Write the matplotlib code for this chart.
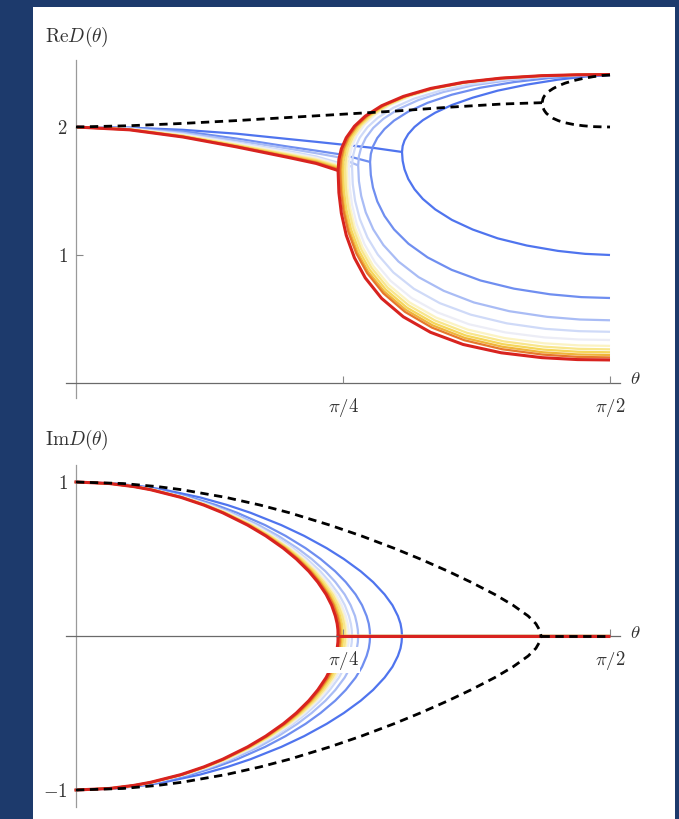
import matplotlib
matplotlib.use("Agg")
import matplotlib.pyplot as plt
from matplotlib.patches import Rectangle

plt.rcParams['mathtext.fontset'] = 'cm'
plt.rcParams['font.family'] = ['DejaVu Serif']

# theta is given in units of pi/2 (0 .. 1); curves ordered blue -> red
curve_colors = ['#4f74ee', '#6f8ef0', '#a9bcf5', '#cfdaf8', '#ecedf6', '#fbf3c3',
                '#f8e68c', '#f5d65a', '#efb43a', '#e6782c', '#d8231f']

# ---- Im D: shared levels, theta of each curve at each level (upper half) ----
im_levels = [1.0, 0.99, 0.97, 0.95, 0.9, 0.85, 0.8, 0.72, 0.65, 0.57, 0.5,
             0.42, 0.35, 0.27, 0.2, 0.13, 0.08, 0.04, 0.0]
im_theta = [
    [0, 0.0737, 0.1275, 0.1646, 0.2322, 0.2838, 0.3269, 0.3846, 0.4274, 0.4696, 0.5016, 0.5332, 0.5564, 0.5779, 0.5926, 0.6028, 0.6077, 0.6097, 0.6105],
    [0, 0.0685, 0.1185, 0.1527, 0.2152, 0.2626, 0.3019, 0.3542, 0.3925, 0.4301, 0.4580, 0.4854, 0.5052, 0.5236, 0.5357, 0.5442, 0.5483, 0.5500, 0.5507],
    [0, 0.0664, 0.1149, 0.1480, 0.2086, 0.2541, 0.2916, 0.3423, 0.3789, 0.4147, 0.4413, 0.4672, 0.4858, 0.5031, 0.5143, 0.5225, 0.5259, 0.5278, 0.5284],
    [0, 0.0653, 0.1129, 0.1455, 0.2049, 0.2497, 0.2868, 0.3360, 0.3718, 0.4067, 0.4326, 0.4576, 0.4754, 0.4924, 0.5034, 0.5111, 0.5147, 0.5164, 0.5169],
    [0, 0.0647, 0.1119, 0.1442, 0.2030, 0.2474, 0.2839, 0.3327, 0.3680, 0.4025, 0.4281, 0.4527, 0.4702, 0.4869, 0.4977, 0.5053, 0.5088, 0.5105, 0.5110],
    [0, 0.0644, 0.1112, 0.1433, 0.2017, 0.2457, 0.2820, 0.3304, 0.3654, 0.3996, 0.4249, 0.4493, 0.4666, 0.4832, 0.4938, 0.5014, 0.5048, 0.5064, 0.5069],
    [0, 0.0641, 0.1107, 0.1426, 0.2008, 0.2446, 0.2806, 0.3288, 0.3636, 0.3976, 0.4227, 0.4469, 0.4640, 0.4805, 0.4911, 0.4986, 0.5019, 0.5035, 0.5041],
    [0, 0.0637, 0.1100, 0.1417, 0.1995, 0.2430, 0.2786, 0.3265, 0.3610, 0.3947, 0.4196, 0.4435, 0.4604, 0.4768, 0.4872, 0.4946, 0.4979, 0.4994, 0.5000],
    [0, 0.0633, 0.1094, 0.1409, 0.1984, 0.2417, 0.2772, 0.3246, 0.3589, 0.3923, 0.4170, 0.4407, 0.4576, 0.4737, 0.4841, 0.4913, 0.4946, 0.4961, 0.4966],
    [0, 0.0631, 0.1091, 0.1405, 0.1978, 0.2409, 0.2764, 0.3235, 0.3577, 0.3909, 0.4155, 0.4391, 0.4559, 0.4718, 0.4822, 0.4893, 0.4927, 0.4941, 0.4946],
    [0, 0.0627, 0.1084, 0.1396, 0.1966, 0.2394, 0.2748, 0.3214, 0.3554, 0.3882, 0.4126, 0.4360, 0.4528, 0.4684, 0.4787, 0.4857, 0.4891, 0.4905, 0.4908],
]
im_theta_dashed = [0, 0.0882, 0.1530, 0.1979, 0.2807, 0.3451, 0.3999, 0.4754, 0.5344, 0.5954,
                   0.6446, 0.6970, 0.7394, 0.7842, 0.8184, 0.8467, 0.8612, 0.8679, 0.871]

# ---- Re D, complex-pair part (theta from 0 to the branch point) ----
re_cx_theta = [
    [0, 0.1, 0.2, 0.3, 0.4, 0.45, 0.5, 0.56, 0.6105],
    [0, 0.1, 0.2, 0.3, 0.4, 0.45, 0.5, 0.5507],
    [0, 0.1, 0.2, 0.3, 0.4, 0.45, 0.49, 0.5284],
    [0, 0.1, 0.2, 0.3, 0.4, 0.45, 0.5169],
    [0, 0.1, 0.2, 0.3, 0.4, 0.45, 0.511],
    [0, 0.1, 0.2, 0.3, 0.4, 0.45, 0.507],
    [0, 0.1, 0.2, 0.3, 0.4, 0.45, 0.504],
    [0, 0.1, 0.2, 0.3, 0.4, 0.45, 0.500],
    [0, 0.1, 0.2, 0.3, 0.4, 0.45, 0.4966],
    [0, 0.1, 0.2, 0.3, 0.4, 0.45, 0.4946],
    [0, 0.1, 0.2, 0.3, 0.4, 0.45, 0.4908],
]
re_cx_val = [
    [2.0, 1.995, 1.978, 1.948, 1.905, 1.884, 1.862, 1.835, 1.805],
    [2.0, 1.993, 1.967, 1.91, 1.845, 1.815, 1.783, 1.727],
    [2.0, 1.99, 1.955, 1.895, 1.83, 1.795, 1.765, 1.70],
    [2.0, 1.987, 1.946, 1.88, 1.81, 1.77, 1.69],
    [2.0, 1.985, 1.94, 1.872, 1.80, 1.76, 1.685],
    [2.0, 1.983, 1.935, 1.865, 1.79, 1.75, 1.68],
    [2.0, 1.982, 1.932, 1.86, 1.783, 1.743, 1.676],
    [2.0, 1.981, 1.929, 1.855, 1.776, 1.735, 1.672],
    [2.0, 1.980, 1.926, 1.851, 1.77, 1.728, 1.668],
    [2.0, 1.979, 1.924, 1.848, 1.765, 1.722, 1.664],
    [2.0, 1.978, 1.922, 1.845, 1.76, 1.715, 1.66],
]

# ---- Re D, the two real branches after the branch point ----
re_br_theta = [
    [.6105, .6117, .6152, .6222, .6339, .6495, .6728, .7040, .7429, .7897, .8442, .9026, .9533, 1.0],
    [.5507, .5521, .5561, .5642, .5777, .5956, .6226, .6585, .7035, .7574, .8203, .8877, .9461, 1.0],
    [.5284, .5298, .5341, .5426, .5567, .5756, .6039, .6416, .6887, .7453, .8114, .8821, .9434, 1.0],
    [.5169, .5183, .5227, .5314, .5459, .5652, .5942, .6328, .6812, .7391, .8068, .8792, .9420, 1.0],
    [.5110, .5125, .5169, .5257, .5403, .5599, .5892, .6284, .6773, .7359, .8044, .8778, .9413, 1.0],
    [.5070, .5085, .5129, .5218, .5366, .5563, .5859, .6253, .6746, .7338, .8028, .8768, .9408, 1.0],
    [.5040, .5055, .5100, .5189, .5338, .5536, .5834, .6230, .6726, .7322, .8016, .8760, .9405, 1.0],
    [.5000, .5015, .5060, .5150, .5300, .5500, .5800, .6200, .6700, .7300, .8000, .8750, .9400, 1.0],
    [.4966, .4981, .5026, .5117, .5268, .5469, .5771, .6174, .6678, .7282, .7986, .8742, .9396, 1.0],
    [.4946, .4961, .5007, .5098, .5249, .5451, .5755, .6159, .6664, .7271, .7978, .8737, .9394, 1.0],
    [.4908, .4923, .4969, .5061, .5214, .5417, .5723, .6130, .6639, .7250, .7963, .8727, .9389, 1.0],
]
re_br_upper = [
    [1.805, 1.851, 1.895, 1.945, 2.000, 2.053, 2.112, 2.172, 2.229, 2.284, 2.331, 2.370, 2.394, 2.406],
    [1.727, 1.789, 1.848, 1.914, 1.984, 2.050, 2.121, 2.189, 2.252, 2.307, 2.351, 2.383, 2.399, 2.405],
    [1.700, 1.772, 1.840, 1.915, 1.993, 2.064, 2.140, 2.211, 2.274, 2.327, 2.366, 2.393, 2.404, 2.408],
    [1.690, 1.767, 1.839, 1.917, 1.999, 2.072, 2.150, 2.221, 2.283, 2.334, 2.372, 2.395, 2.405, 2.408],
    [1.685, 1.769, 1.848, 1.933, 2.019, 2.095, 2.174, 2.244, 2.303, 2.350, 2.382, 2.400, 2.407, 2.409],
    [1.680, 1.765, 1.844, 1.929, 2.016, 2.093, 2.172, 2.243, 2.303, 2.350, 2.382, 2.400, 2.407, 2.409],
    [1.676, 1.762, 1.841, 1.927, 2.014, 2.091, 2.171, 2.242, 2.302, 2.349, 2.381, 2.400, 2.407, 2.409],
    [1.672, 1.758, 1.838, 1.924, 2.012, 2.090, 2.170, 2.242, 2.302, 2.350, 2.382, 2.401, 2.408, 2.410],
    [1.668, 1.755, 1.835, 1.922, 2.010, 2.088, 2.169, 2.241, 2.302, 2.350, 2.382, 2.401, 2.408, 2.410],
    [1.664, 1.751, 1.832, 1.919, 2.008, 2.087, 2.168, 2.240, 2.301, 2.349, 2.382, 2.401, 2.408, 2.410],
    [1.660, 1.747, 1.829, 1.916, 2.006, 2.085, 2.166, 2.239, 2.301, 2.349, 2.382, 2.401, 2.408, 2.410],
]
re_br_lower = [
    [1.805, 1.736, 1.669, 1.594, 1.514, 1.438, 1.356, 1.274, 1.199, 1.130, 1.074, 1.032, 1.009, 1.0],
    [1.727, 1.625, 1.527, 1.419, 1.305, 1.200, 1.088, 0.981, 0.884, 0.801, 0.737, 0.693, 0.671, 0.664],
    [1.700, 1.577, 1.461, 1.333, 1.200, 1.078, 0.949, 0.827, 0.720, 0.629, 0.561, 0.517, 0.496, 0.490],
    [1.690, 1.553, 1.423, 1.282, 1.136, 1.003, 0.864, 0.736, 0.624, 0.534, 0.466, 0.423, 0.405, 0.400],
    [1.685, 1.535, 1.394, 1.241, 1.084, 0.943, 0.798, 0.664, 0.551, 0.459, 0.395, 0.356, 0.340, 0.336],
    [1.680, 1.525, 1.380, 1.223, 1.061, 0.916, 0.766, 0.628, 0.511, 0.417, 0.351, 0.310, 0.294, 0.290],
    [1.676, 1.518, 1.371, 1.211, 1.046, 0.899, 0.746, 0.607, 0.488, 0.392, 0.325, 0.284, 0.267, 0.263],
    [1.672, 1.512, 1.363, 1.201, 1.034, 0.885, 0.730, 0.588, 0.468, 0.371, 0.303, 0.261, 0.244, 0.240],
    [1.668, 1.506, 1.355, 1.191, 1.022, 0.871, 0.715, 0.572, 0.450, 0.352, 0.283, 0.240, 0.223, 0.219],
    [1.664, 1.501, 1.348, 1.182, 1.012, 0.859, 0.701, 0.556, 0.433, 0.334, 0.264, 0.222, 0.204, 0.200],
    [1.660, 1.487, 1.327, 1.154, 0.978, 0.821, 0.661, 0.517, 0.396, 0.301, 0.236, 0.198, 0.183, 0.180],
]

# ---- dashed reference curve ----
dash_cx_theta = [0, 0.1, 0.2, 0.3, 0.4, 0.5, 0.6, 0.7, 0.8, 0.873]
dash_cx_val = [2.0, 2.01, 2.028, 2.05, 2.075, 2.10, 2.125, 2.155, 2.18, 2.19]
dash_br_theta = [.873, .8745, .8768, .8806, .8857, .8933, .9035, .9162, .9314, .9492, .9683, .9848, 1.0]
dash_br_upper = [2.19, 2.222, 2.241, 2.260, 2.279, 2.300, 2.322, 2.343, 2.362, 2.379, 2.393, 2.402, 2.406]
dash_br_lower = [2.19, 2.151, 2.130, 2.108, 2.089, 2.068, 2.049, 2.033, 2.020, 2.010, 2.003, 2.001, 2.0]

x_ticks = [0.5, 1.0]
x_ticklabels = [r'$\pi/4$', r'$\pi/2$']
re_ticks = [1, 2]
im_ticks = [-1, 1]

W, H = 679, 819
fig = plt.figure(figsize=(W / 100, H / 100), dpi=100)
fig.patch.set_facecolor('#1d3a6c')
fig.patches.append(Rectangle((33 / W, 0), (675 - 33) / W, 1 - 7 / H,
                             transform=fig.transFigure, facecolor='white',
                             edgecolor='none', zorder=-10))

def px_axes(l, t, r, b):
    return fig.add_axes([l / W, 1 - b / H, (r - l) / W, (b - t) / H])

ax1 = px_axes(66, 60, 620, 398)
ax2 = px_axes(66, 465, 620, 807)
xl = (-10 / 534, 1 + 10 / 534)
ax1.set_xlim(*xl)
ax2.set_xlim(*xl)
ax1.set_ylim((383 - 398) / 128, (383 - 60) / 128)
ax2.set_ylim(-171 / 154, 171 / 154)

lab_col = '#333333'
for ax, yt in ((ax1, re_ticks), (ax2, im_ticks)):
    ax.patch.set_visible(False)
    ax.set_axisbelow(False)
    for s in ('top', 'right'):
        ax.spines[s].set_visible(False)
    ax.spines['left'].set_position(('data', 0))
    ax.spines['bottom'].set_position(('data', 0))
    ax.spines['left'].set_color('#9a9a9a')
    ax.spines['bottom'].set_color('#6a6a6a')
    ax.spines['left'].set_linewidth(0.9)
    ax.spines['bottom'].set_linewidth(0.9)
    ax.set_xticks(x_ticks)
    ax.set_xticklabels(x_ticklabels)
    ax.set_yticks(yt)
    ax.set_yticklabels([r'$%d$' % v if v >= 0 else r'$-%d$' % (-v) for v in yt])
    ax.tick_params(direction='in', length=5, width=0.8, color='#888888',
                   labelsize=13.5, labelcolor=lab_col)
    ax.tick_params(axis='x', pad=9)
    ax.tick_params(axis='y', pad=6)
    for lbl in ax.get_xticklabels():
        lbl.set_bbox(dict(facecolor='white', edgecolor='none', pad=1.0))

n = len(curve_colors)
for i in range(n):
    c = curve_colors[i]
    lw = 2.2 if i == n - 1 else 1.6
    z = 1.0 + i * 0.05
    th = re_br_theta[i]
    ax1.plot(re_cx_theta[i], re_cx_val[i], color=c, lw=lw, zorder=z, solid_capstyle='butt')
    ax1.plot(th[::-1] + th[1:], re_br_upper[i][::-1] + re_br_lower[i][1:],
             color=c, lw=lw, zorder=z, solid_capstyle='butt')
    ax2.plot(im_theta[i], im_levels, color=c, lw=lw, zorder=z)
    ax2.plot(im_theta[i], [-v for v in im_levels], color=c, lw=lw, zorder=z)
    ax2.plot([im_theta[i][-1], 1.0], [0, 0], color=c, lw=lw, zorder=2.6 + i * 0.01,
             solid_capstyle='butt')

dkw = dict(color='black', lw=2.0, ls=(0, (3, 2)), zorder=2.8)
ax1.plot(dash_cx_theta, dash_cx_val, **dkw)
ax1.plot(dash_br_theta[::-1] + dash_br_theta[1:], dash_br_upper[::-1] + dash_br_lower[1:], **dkw)
ax2.plot(im_theta_dashed, im_levels, **dkw)
ax2.plot(im_theta_dashed, [-v for v in im_levels], **dkw)
ax2.plot([im_theta_dashed[-1], 1.0], [0, 0], **dkw)

fig.text(45 / W, 1 - 37 / H, r'$\mathrm{Re}D(\theta)$', fontsize=14, color=lab_col, va='center', ha='left')
fig.text(45 / W, 1 - 440 / H, r'$\mathrm{Im}D(\theta)$', fontsize=14, color=lab_col, va='center', ha='left')
fig.text(630 / W, 1 - 379 / H, r'$\theta$', fontsize=13.5, color=lab_col, va='center', ha='left')
fig.text(630 / W, 1 - 633 / H, r'$\theta$', fontsize=13.5, color=lab_col, va='center', ha='left')

fig.savefig('out.png', dpi=100, facecolor=fig.get_facecolor())
